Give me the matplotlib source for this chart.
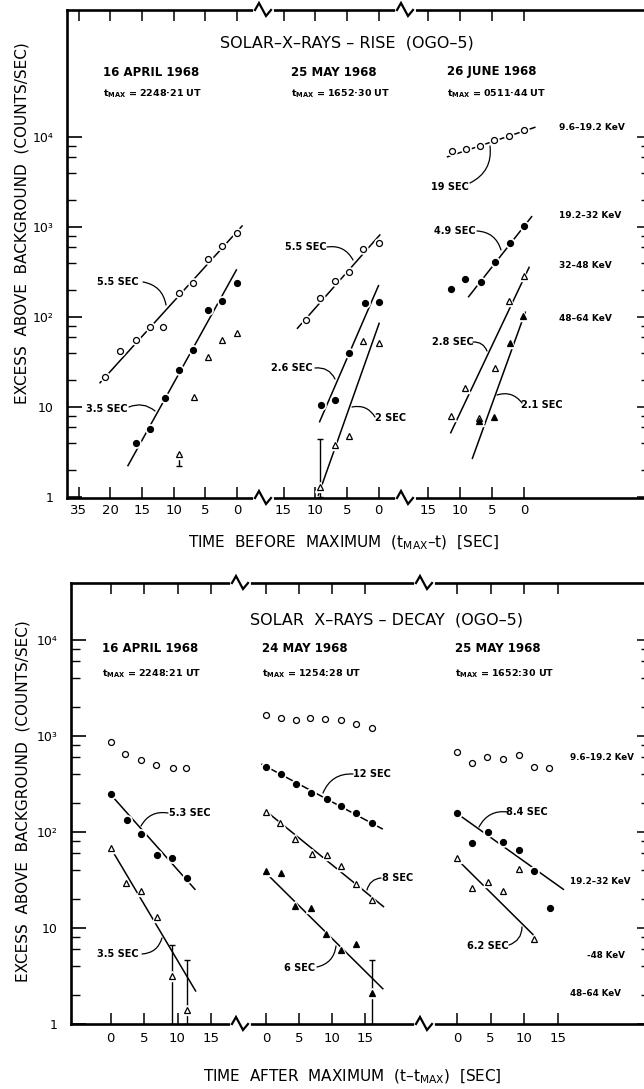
import numpy as np
import matplotlib.pyplot as plt
from matplotlib.lines import Line2D
from matplotlib.patches import FancyArrowPatch
from matplotlib.ticker import FixedLocator, FixedFormatter, NullFormatter

plt.rcParams['font.family'] = ['DejaVu Sans']

# ---------------- data: rise (seconds before maximum) ----------------
# 16 April 1968
rise_apr_t_oc = [20.8, 18.4, 16.0, 13.8, 11.6, 9.2, 7.0, 4.6, 2.3, 0.0]
rise_apr_v_oc = [21.5, 42, 55, 78, 77, 183, 237, 437, 615, 850]
rise_apr_fit_oc = ([21.6, -0.8], [18.6, 1026])
rise_apr_t_fc = [16.0, 13.7, 11.4, 9.2, 6.9, 4.6, 2.3, 0.0]
rise_apr_v_fc = [4.0, 5.7, 12.5, 26, 43, 119, 152, 237]
rise_apr_fit_fc = ([17.2, 0.1], [2.23, 333])
rise_apr_t_ot = [9.2, 6.8, 4.6, 2.3, 0.0]
rise_apr_v_ot = [3.0, 13, 36, 55, 66]
rise_apr_err = ([9.2], [3.0], [2.2], [3.0])      # t, v, low, high

# 25 May 1968
rise_may_t_oc = [11.4, 9.2, 6.9, 4.6, 2.4, 0.0]
rise_may_v_oc = [93, 164, 251, 319, 570, 659]
rise_may_fit_oc = ([12.8, -0.2], [75, 815])
rise_may_t_fc = [9.1, 6.8, 4.6, 2.2, 0.0]
rise_may_v_fc = [10.4, 12.1, 39.5, 142, 146]
rise_may_fit_fc = ([9.3, 0.0], [6.87, 223])
rise_may_t_ot = [9.2, 6.9, 4.7, 2.4, 0.0]
rise_may_v_ot = [1.3, 3.8, 4.8, 54, 51]
rise_may_fit_ot = ([9.5, -0.1], [1.05, 85])
rise_may_err = ([9.2], [1.3], [1.0], [4.4])

# 26 June 1968
rise_jun_t_oc = [11.3, 9.1, 6.9, 4.7, 2.4, 0.0]
rise_jun_v_oc = [7050, 7360, 7940, 9330, 10300, 11900]
rise_jun_fit_oc = ([12.0, -1.7], [6030, 12800])
rise_jun_t_fc = [11.5, 9.2, 6.8, 4.5, 2.2, 0.0]
rise_jun_v_fc = [205, 264, 243, 408, 659, 1026]
rise_jun_fit_fc = ([8.7, -1.2], [168, 1303])
rise_jun_t_ot = [11.5, 9.3, 7.0, 4.5, 2.3, 0.0]
rise_jun_v_ot = [7.9, 16.1, 7.6, 26.9, 152, 286]
rise_jun_fit_ot = ([11.5, -0.8], [5.18, 356])
rise_jun_t_ft = [7.0, 4.7, 2.2, 0.1]
rise_jun_v_ft = [7.0, 7.8, 51, 103]
rise_jun_fit_ft = ([8.1, -0.2], [2.69, 113])

# ---------------- data: decay (seconds after maximum) ----------------
# 16 April 1968
dec_apr_t_oc = [0.0, 2.2, 4.5, 6.8, 9.3, 11.3]
dec_apr_v_oc = [865, 644, 562, 495, 464, 464]
dec_apr_t_fc = [0.0, 2.4, 4.6, 7.0, 9.2, 11.4]
dec_apr_v_fc = [247, 133, 95, 58, 54, 33.5]
dec_apr_fit_fc = ([0.0, 12.6], [247, 25.3])
dec_apr_t_ot = [0.0, 2.3, 4.5, 6.9, 9.2, 11.4]
dec_apr_v_ot = [68.7, 29.7, 24.3, 13.1, 3.16, 1.39]
dec_apr_fit_ot = ([0.0, 12.7], [68.7, 2.21])
dec_apr_err = ([9.2, 11.4], [3.16, 1.39], [1.0, 1.0], [6.65, 4.6])

# 24 May 1968
dec_may_t_oc = [0.0, 2.2, 4.5, 6.7, 9.0, 11.4, 13.6, 16.1]
dec_may_v_oc = [1640, 1550, 1470, 1530, 1490, 1480, 1340, 1220]
dec_may_t_fc = [0.0, 2.2, 4.5, 6.8, 9.2, 11.4, 13.7, 16.1]
dec_may_v_fc = [475, 399, 314, 253, 219, 187, 156, 123]
dec_may_fit_fc = ([-0.6, 17.6], [507, 108])
dec_may_t_ot = [0.0, 2.1, 4.4, 6.9, 9.2, 11.4, 13.7, 16.0]
dec_may_v_ot = [162, 125, 85, 59, 57, 44, 28.5, 19.6]
dec_may_fit_ot = ([0.0, 17.8], [165, 16.7])
dec_may_t_ft = [0.0, 2.2, 4.4, 6.8, 9.1, 11.4, 13.6, 16.1]
dec_may_v_ft = [38.9, 37.7, 16.9, 16.3, 8.6, 5.85, 6.76, 2.12]
dec_may_fit_ft = ([0.2, 17.7], [36.2, 2.33])
dec_may_err = ([16.1], [2.12], [1.0], [4.6])

# 25 May 1968
dec_m25_t_oc = [0.0, 2.3, 4.5, 6.8, 9.2, 11.4, 13.7]
dec_m25_v_oc = [681, 527, 604, 571, 629, 475, 464]
dec_m25_t_fc = [0.0, 2.3, 4.6, 6.8, 9.2, 11.4, 13.8]
dec_m25_v_fc = [156, 76, 100, 79, 65, 39, 16.2]
dec_m25_fit_fc = ([0.0, 15.8], [156, 25.3])
dec_m25_t_ot = [0.0, 2.3, 4.6, 6.9, 9.2, 11.5]
dec_m25_v_ot = [53, 26, 30, 24, 41, 7.6]
dec_m25_fit_ot = ([0.0, 11.4], [52, 8.4])

ytick_vals = [1, 10, 100, 1000, 10000]
ytick_text = ['1', '10', '10²', '10³', '10⁴']
yminor_vals = [m * 10 ** k for k in range(4) for m in (2, 4, 6, 8)]

# ---------------- layout (pixels) ----------------
W, H = 644, 1089
fig = plt.figure(figsize=(W / 100, H / 100), dpi=100)


def fx(x):
    return x / W


def fy(y):
    return 1 - y / H


def make_seg(x0, x1, ytop, ybot, zero, scale, reverse, ylim, pos):
    ax = fig.add_axes([fx(x0), fy(ybot), (x1 - x0) / W, (ybot - ytop) / H])
    ax.patch.set_alpha(0)
    if reverse:
        ax.set_xlim((zero - x0) / scale, (zero - x1) / scale)
    else:
        ax.set_xlim((x0 - zero) / scale, (x1 - zero) / scale)
    ax.set_yscale('log')
    ax.set_ylim(*ylim)
    for s in ['top', 'bottom', 'left', 'right']:
        ax.spines[s].set_linewidth(1.9)
    ax.spines['right'].set_visible(False)
    if pos != 'first':
        ax.spines['left'].set_visible(False)
    ax.xaxis.set_ticks_position('both')
    ax.tick_params(axis='x', direction='in', length=8, width=1.1,
                   labelsize=9.5, pad=4)
    ax.yaxis.set_major_locator(FixedLocator(ytick_vals))
    ax.yaxis.set_minor_locator(FixedLocator(yminor_vals))
    ax.yaxis.set_minor_formatter(NullFormatter())
    if pos == 'first':
        ax.yaxis.set_ticks_position('left')
        ax.yaxis.set_major_formatter(FixedFormatter(ytick_text))
        ax.tick_params(axis='y', which='major', direction='in', length=11,
                       width=1.2, pad=10, labelsize=9)
        ax.tick_params(axis='y', which='minor', direction='in', length=6.5, width=1.0)
    elif pos == 'last':
        ax.yaxis.set_ticks_position('right')
        ax.tick_params(axis='y', which='major', direction='in', length=5,
                       width=1.1, labelright=False)
        ax.tick_params(axis='y', which='minor', direction='in', length=2, width=1.0)
    else:
        ax.tick_params(axis='y', which='both', left=False, right=False,
                       labelleft=False)
    return ax


def marks(ax, t, v, marker, filled, ms=4.3):
    ax.plot(t, v, ls='none', marker=marker, ms=ms + 2.4, mfc='white',
            mec='white', zorder=3, clip_on=False)
    ax.plot(t, v, ls='none', marker=marker, ms=ms, mew=0.9, mec='black',
            mfc='black' if filled else 'white', zorder=4, clip_on=False)


def fit(ax, line):
    ax.plot(line[0], line[1], color='black', lw=1.1, zorder=2)


def errs(ax, e):
    t, v, lo, hi = e
    v = np.array(v)
    ax.errorbar(t, v, yerr=[v - np.array(lo), np.array(hi) - v], fmt='none',
                ecolor='black', elinewidth=1.0, capsize=2.5, capthick=1.0, zorder=2)


def zigzag(x, y):
    fig.add_artist(Line2D([fx(x - 8), fx(x + 8)], [fy(y), fy(y)], color='white',
                          lw=3.5, transform=fig.transFigure, zorder=5))
    fig.add_artist(Line2D([fx(x - 8), fx(x - 4), fx(x + 3), fx(x + 8)],
                          [fy(y), fy(y - 7), fy(y + 6), fy(y)], color='black',
                          lw=1.6, transform=fig.transFigure, zorder=6,
                          solid_joinstyle='miter'))


def leader(text, tx, ty, x0, y0, x1, y1, mode='h', ha='center'):
    fig.text(fx(tx), fy(ty), text, ha=ha, va='center', fontsize=7, fontweight='bold')
    dx, dy = x1 - x0, -(y1 - y0)
    sgn = np.sign(dx * dy) if dx * dy != 0 else 1
    rad = 0.35 * sgn if mode == 'h' else (-0.35 * sgn if mode == 'v' else mode)
    fig.add_artist(FancyArrowPatch((fx(x0), fy(y0)), (fx(x1), fy(y1)),
                                   transform=fig.transFigure, arrowstyle='-',
                                   connectionstyle=f'arc3,rad={rad}', lw=0.9,
                                   color='black', shrinkA=0, shrinkB=0))


# ---------------- top panel: rise ----------------
ylim_top = (10 ** (-1 / 90), 10 ** (487 / 90))
r1 = make_seg(67, 263, 10, 498, 237, 6.34, True, ylim_top, 'first')
r2 = make_seg(263, 405, 10, 498, 378.5, 6.33, True, ylim_top, 'mid')
r3 = make_seg(405, 644, 10, 498, 524, 6.37, True, ylim_top, 'last')
r1.xaxis.set_major_locator(FixedLocator([25, 20, 15, 10, 5, 0]))
r1.set_xticklabels(['35', '20', '15', '10', '5', '0'])
for ax in (r2, r3):
    ax.xaxis.set_major_locator(FixedLocator([15, 10, 5, 0]))
    ax.set_xticklabels(['15', '10', '5', '0'])

fit(r1, rise_apr_fit_oc)
fit(r1, rise_apr_fit_fc)
errs(r1, rise_apr_err)
marks(r1, rise_apr_t_oc, rise_apr_v_oc, 'o', False)
marks(r1, rise_apr_t_fc, rise_apr_v_fc, 'o', True)
marks(r1, rise_apr_t_ot, rise_apr_v_ot, '^', False)

fit(r2, rise_may_fit_oc)
fit(r2, rise_may_fit_fc)
fit(r2, rise_may_fit_ot)
errs(r2, rise_may_err)
marks(r2, rise_may_t_oc, rise_may_v_oc, 'o', False)
marks(r2, rise_may_t_fc, rise_may_v_fc, 'o', True)
marks(r2, rise_may_t_ot, rise_may_v_ot, '^', False)

fit(r3, rise_jun_fit_oc)
fit(r3, rise_jun_fit_fc)
fit(r3, rise_jun_fit_ot)
fit(r3, rise_jun_fit_ft)
marks(r3, rise_jun_t_oc, rise_jun_v_oc, 'o', False)
marks(r3, rise_jun_t_fc, rise_jun_v_fc, 'o', True)
marks(r3, rise_jun_t_ot, rise_jun_v_ot, '^', False)
marks(r3, rise_jun_t_ft, rise_jun_v_ft, '^', True)

# ---------------- bottom panel: decay ----------------
ylim_bot = (1, 10 ** (441 / 96))
d1 = make_seg(71, 240, 583, 1024, 110.5, 6.7, False, ylim_bot, 'first')
d2 = make_seg(240, 424, 583, 1024, 266, 6.6, False, ylim_bot, 'mid')
d3 = make_seg(424, 644, 583, 1024, 457, 6.73, False, ylim_bot, 'last')
for ax in (d1, d2, d3):
    ax.xaxis.set_major_locator(FixedLocator([0, 5, 10, 15]))
    ax.set_xticklabels(['0', '5', '10', '15'])
    ax.tick_params(axis='x', pad=6)

fit(d1, dec_apr_fit_fc)
fit(d1, dec_apr_fit_ot)
errs(d1, dec_apr_err)
marks(d1, dec_apr_t_oc, dec_apr_v_oc, 'o', False)
marks(d1, dec_apr_t_fc, dec_apr_v_fc, 'o', True)
marks(d1, dec_apr_t_ot, dec_apr_v_ot, '^', False)

fit(d2, dec_may_fit_fc)
fit(d2, dec_may_fit_ot)
fit(d2, dec_may_fit_ft)
errs(d2, dec_may_err)
marks(d2, dec_may_t_oc, dec_may_v_oc, 'o', False)
marks(d2, dec_may_t_fc, dec_may_v_fc, 'o', True)
marks(d2, dec_may_t_ot, dec_may_v_ot, '^', False)
marks(d2, dec_may_t_ft, dec_may_v_ft, '^', True)

fit(d3, dec_m25_fit_fc)
fit(d3, dec_m25_fit_ot)
marks(d3, dec_m25_t_oc, dec_m25_v_oc, 'o', False)
marks(d3, dec_m25_t_fc, dec_m25_v_fc, 'o', True)
marks(d3, dec_m25_t_ot, dec_m25_v_ot, '^', False)

# axis breaks
for x in (263, 405):
    zigzag(x, 10)
    zigzag(x, 498)
for x in (240, 424):
    zigzag(x, 583)
    zigzag(x, 1024)

# ---------------- texts ----------------
fig.text(fx(347), fy(43), 'SOLAR–X–RAYS – RISE  (OGO–5)', ha='center',
         va='center', fontsize=11.5)
fig.text(fx(386), fy(620), 'SOLAR  X–RAYS – DECAY  (OGO–5)', ha='center',
         va='center', fontsize=11.5)

fig.text(fx(22), fy(223), 'EXCESS  ABOVE  BACKGROUND  (COUNTS/SEC)',
         rotation=90, ha='center', va='center', fontsize=11)
fig.text(fx(23), fy(801), 'EXCESS  ABOVE  BACKGROUND  (COUNTS/SEC)',
         rotation=90, ha='center', va='center', fontsize=11)
fig.text(fx(344), fy(543), r'TIME  BEFORE  MAXIMUM  (t$_{\mathrm{MAX}}$–t)  [SEC]',
         ha='center', va='center', fontsize=11)
fig.text(fx(352), fy(1077), r'TIME  AFTER  MAXIMUM  (t–t$_{\mathrm{MAX}}$)  [SEC]',
         ha='center', va='center', fontsize=11)

top_dates = [(103, '16 APRIL 1968', r't$_{\mathbf{MAX}}$ = 2248·21 UT'),
             (291, '25 MAY 1968', r't$_{\mathbf{MAX}}$ = 1652·30 UT'),
             (447, '26 JUNE 1968', r't$_{\mathbf{MAX}}$ = 0511·44 UT')]
for x, d, tm in top_dates:
    fig.text(fx(x), fy(72), d, ha='left', va='center', fontsize=8.5, fontweight='bold')
    fig.text(fx(x), fy(94), tm, ha='left', va='center', fontsize=6.8, fontweight='bold')

bot_dates = [(102, '16 APRIL 1968', r't$_{\mathbf{MAX}}$ = 2248:21 UT'),
             (262, '24 MAY 1968', r't$_{\mathbf{MAX}}$ = 1254:28 UT'),
             (455, '25 MAY 1968', r't$_{\mathbf{MAX}}$ = 1652:30 UT')]
for x, d, tm in bot_dates:
    fig.text(fx(x), fy(648), d, ha='left', va='center', fontsize=8.5, fontweight='bold')
    fig.text(fx(x), fy(674), tm, ha='left', va='center', fontsize=6.8, fontweight='bold')

energy_top = [(128, '9.6–19.2 KeV'), (216, '19.2–32 KeV'), (266, '32–48 KeV'),
              (318, '48–64 KeV')]
for y, s in energy_top:
    fig.text(fx(559), fy(y), s, ha='left', va='center', fontsize=6.5, fontweight='bold')
energy_bot = [(570, 757, '9.6–19.2 KeV'), (570, 882, '19.2–32 KeV'),
              (587, 956, '-48 KeV'), (570, 993, '48–64 KeV')]
for x, y, s in energy_bot:
    fig.text(fx(x), fy(y), s, ha='left', va='center', fontsize=6.3, fontweight='bold')

# slope labels with leader curves
leader('5.5 SEC', 118, 282, 143, 282, 166, 305)
leader('3.5 SEC', 107, 409, 129, 407, 155, 411, mode=-0.3)
leader('5.5 SEC', 306, 247, 327, 247, 353, 260)
leader('2.6 SEC', 292, 368, 315, 368, 335, 379)
leader('2 SEC', 391, 418, 352, 407, 375, 417)
leader('19 SEC', 450, 187, 470, 183, 490, 146)
leader('4.9 SEC', 455, 231, 477, 231, 501, 250)
leader('2.8 SEC', 453, 342, 473, 342, 487, 351)
leader('2.1 SEC', 542, 405, 497, 395, 522, 403)

leader('5.3 SEC', 190, 813, 168, 813, 141, 826)
leader('3.5 SEC', 118, 954, 142, 954, 162, 938)
leader('12 SEC', 372, 774, 353, 774, 323, 793)
leader('8 SEC', 398, 878, 381, 878, 367, 890)
leader('6 SEC', 300, 968, 317, 967, 336, 946)
leader('8.4 SEC', 527, 812, 508, 812, 479, 827)
leader('6.2 SEC', 488, 946, 509, 945, 522, 927)

fig.savefig('out.png', dpi=100)
